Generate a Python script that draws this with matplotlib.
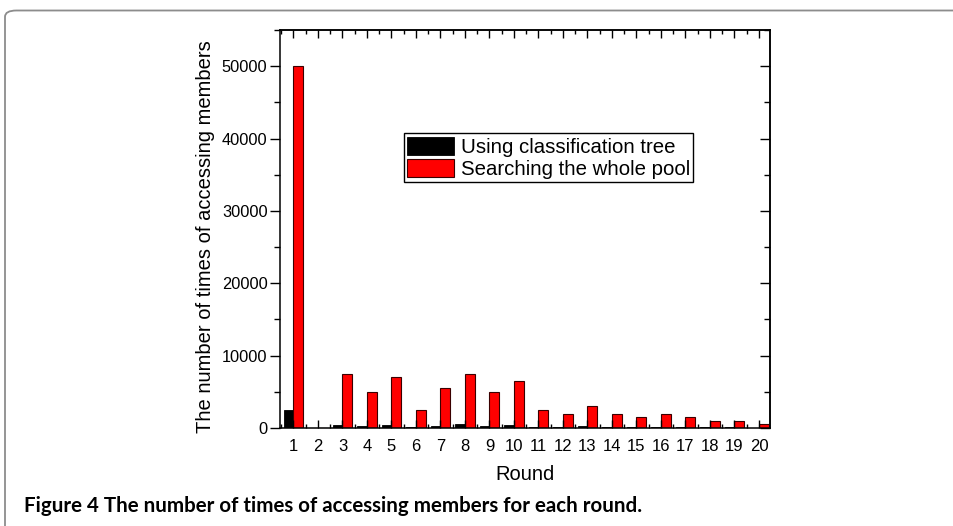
import matplotlib
matplotlib.use("Agg")
import matplotlib.pyplot as plt
from matplotlib.patches import FancyBboxPatch
from matplotlib.ticker import MultipleLocator
import numpy as np

rounds = list(range(1, 21))
tree_counts = [2500, 0, 400, 300, 400, 200, 300, 500, 300, 400,
               200, 100, 300, 100, 100, 200, 100, 100, 100, 0]
pool_counts = [50000, 0, 7500, 5000, 7000, 2500, 5500, 7500, 5000, 6500,
               2500, 2000, 3000, 2000, 1500, 2000, 1500, 1000, 1000, 500]
series_labels = ["Using classification tree", "Searching the whole pool"]
y_ticks = [0, 10000, 20000, 30000, 40000, 50000]

plt.rcParams['font.family'] = ['Liberation Sans', 'DejaVu Sans']

fig = plt.figure(figsize=(9.54, 5.26), dpi=100)

# caption frame (top and left edge, rounded corner)
frame = FancyBboxPatch((5 / 954, -0.2), 1.2, 1.2 - 10.5 / 526,
                       boxstyle="round,pad=0,rounding_size=0.012",
                       transform=fig.transFigure, fill=False,
                       edgecolor="#8c8c8c", linewidth=1.3, clip_on=False)
fig.patches.append(frame)

ax = fig.add_axes([280 / 954, 1 - 428 / 526, 490 / 954, 398 / 526])

x = np.array(rounds)
w = 0.4
ax.bar(x - w / 2, tree_counts, width=w, color="black", edgecolor="black",
       linewidth=0.6, label=series_labels[0])
ax.bar(x + w / 2, pool_counts, width=w, color="#ff0000", edgecolor="#3a0000",
       linewidth=0.8, label=series_labels[1])

ax.set_xlim(0.45, 20.45)
ax.set_ylim(0, 55000)

ax.set_xticks(rounds)
ax.xaxis.set_minor_locator(MultipleLocator(0.5))
ax.set_yticks(y_ticks)
ax.yaxis.set_minor_locator(MultipleLocator(5000))

ax.tick_params(axis='x', which='both', direction='in', labelsize=12, pad=8)
ax.tick_params(axis='x', which='major', length=6, width=1)
ax.tick_params(axis='x', which='minor', length=3, width=1)
ax.tick_params(axis='y', which='both', direction='out', labelsize=11.8, pad=2)
ax.tick_params(axis='y', which='major', length=7, width=1)
ax.tick_params(axis='y', which='minor', length=4, width=1)

# mirrored ticks on top and right, pointing inward
top = ax.secondary_xaxis('top')
top.set_xticks(rounds)
top.xaxis.set_minor_locator(MultipleLocator(0.5))
top.tick_params(which='both', direction='in', labeltop=False)
top.tick_params(which='major', length=6, width=1)
top.tick_params(which='minor', length=3, width=1)

right = ax.secondary_yaxis('right')
right.set_yticks(y_ticks)
right.yaxis.set_minor_locator(MultipleLocator(5000))
right.tick_params(which='both', direction='in', labelright=False)
right.tick_params(which='major', length=7, width=1)
right.tick_params(which='minor', length=4, width=1)

for sp in list(ax.spines.values()) + [top.spines['top'], right.spines['right']]:
    sp.set_linewidth(1.1)

ax.set_xlabel("Round", fontsize=14.5, labelpad=8)
ax.set_ylabel("The number of times of accessing members", fontsize=14.5, labelpad=0)
ax.yaxis.set_label_coords(-0.133, 0.482)

leg = ax.legend(loc='upper left', bbox_to_anchor=(0.253, 0.74), fontsize=14.7,
                frameon=True, fancybox=False, edgecolor="black", framealpha=1,
                borderaxespad=0, borderpad=0.15, handlelength=2.3,
                handleheight=1.0, handletextpad=0.35, labelspacing=0.1)
leg.get_frame().set_linewidth(1.0)

fig.text(24 / 954, 1 - 506 / 526, "Figure 4 The number of times of accessing members for each round.",
         fontsize=14.8, fontweight='bold', family=['Lato', 'DejaVu Sans'], va='center', ha='left')

fig.savefig("out.png", dpi=100)
